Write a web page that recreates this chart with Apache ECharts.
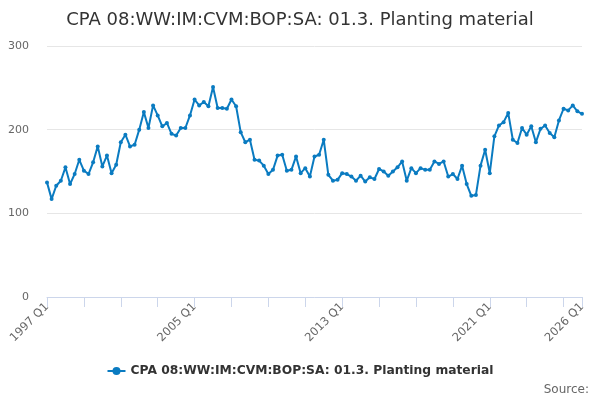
<!DOCTYPE html>
<html>
<head>
<meta charset="utf-8">
<script src="https://cdn.jsdelivr.net/npm/echarts@6/dist/echarts.min.js"></script>
<style>
html,body{margin:0;padding:0;background:#fff;}
#chart{width:600px;height:400px;}
</style>
</head>
<body>
<div id="chart"></div>
<script>
var titleText = 'CPA 08:WW:IM:CVM:BOP:SA: 01.3. Planting material';
var seriesName = 'CPA 08:WW:IM:CVM:BOP:SA: 01.3. Planting material';
var startYear = 1997;
var endYear = 2026;
var values = [
  137, 117, 133, 139, 155, 135, 147, 164, 151, 147,
  161, 180, 156, 169, 148, 158, 185, 194, 180, 182,
  200, 221, 202, 229, 217, 204, 208, 195, 193, 202,
  202, 217, 236, 229, 233, 228, 251, 226, 226, 225,
  236, 228, 197, 185, 188, 164, 163, 157, 147, 152,
  169, 170, 151, 152, 168, 148, 154, 144, 168, 170,
  188, 146, 139, 140, 148, 147, 144, 139, 145, 138,
  143, 141, 153, 150, 145, 150, 155, 162, 139, 154,
  148, 154, 152, 152, 162, 159, 162, 144, 147, 141,
  157, 135, 121, 122, 157, 176, 148, 192, 205, 209,
  220, 188, 184, 202, 194, 204, 185, 201, 205, 196,
  191, 211, 225, 223, 229, 222, 219
];
var yTicks = [0, 100, 200, 300];

var categories = [];
for (var y = startYear; y <= endYear; y++) {
  for (var q = 1; q <= 4; q++) {
    if (y === endYear && q > 1) break;
    categories.push(y + ' Q' + q);
  }
}
var lastIdx = categories.length - 1;

var chart = echarts.init(document.getElementById('chart'), null, {renderer: 'canvas'});
chart.setOption({
  animation: false,
  backgroundColor: '#ffffff',
  title: {
    text: titleText,
    left: 'center',
    top: 6,
    textStyle: {fontFamily: 'DejaVu Sans', fontSize: 18, fontWeight: 'normal', color: '#333333'}
  },
  legend: {
    bottom: 18,
    left: 'center',
    itemWidth: 18,
    itemHeight: 10,
    itemGap: 10,
    textStyle: {fontFamily: 'DejaVu Sans', fontSize: 12.3, fontWeight: 'bold', color: '#333333'},
    data: [seriesName]
  },
  graphic: [{
    type: 'text',
    right: 11,
    bottom: 4,
    style: {text: 'Source:', fill: '#666666', font: '12px "DejaVu Sans"'}
  }],
  grid: {left: 47, right: 18, top: 46, bottom: 103, containLabel: false},
  xAxis: {
    type: 'category',
    data: categories,
    boundaryGap: false,
    axisLine: {lineStyle: {color: '#ccd6eb', width: 1}},
    axisTick: {
      show: true,
      length: 10,
      lineStyle: {color: '#ccd6eb'},
      interval: function (i) { return i % 8 === 0 || i === lastIdx; }
    },
    axisLabel: {
      rotate: 45,
      color: '#666666',
      fontFamily: 'DejaVu Sans',
      fontSize: 11.5,
      margin: 8,
      interval: function (i) { return i % 32 === 0 || i === lastIdx; }
    },
    splitLine: {show: false}
  },
  yAxis: {
    type: 'value',
    min: yTicks[0],
    max: yTicks[yTicks.length - 1],
    interval: 100,
    axisLine: {show: false},
    axisTick: {show: false},
    axisLabel: {color: '#666666', fontFamily: 'DejaVu Sans', fontSize: 11, margin: 18},
    splitLine: {lineStyle: {color: '#e6e6e6', width: 1}}
  },
  series: [{
    name: seriesName,
    type: 'line',
    data: values,
    symbol: 'circle',
    symbolSize: 4,
    showSymbol: true,
    showAllSymbol: true,
    itemStyle: {color: '#0a7bc1'},
    lineStyle: {color: '#0a7bc1', width: 2}
  }]
});
</script>
</body>
</html>
